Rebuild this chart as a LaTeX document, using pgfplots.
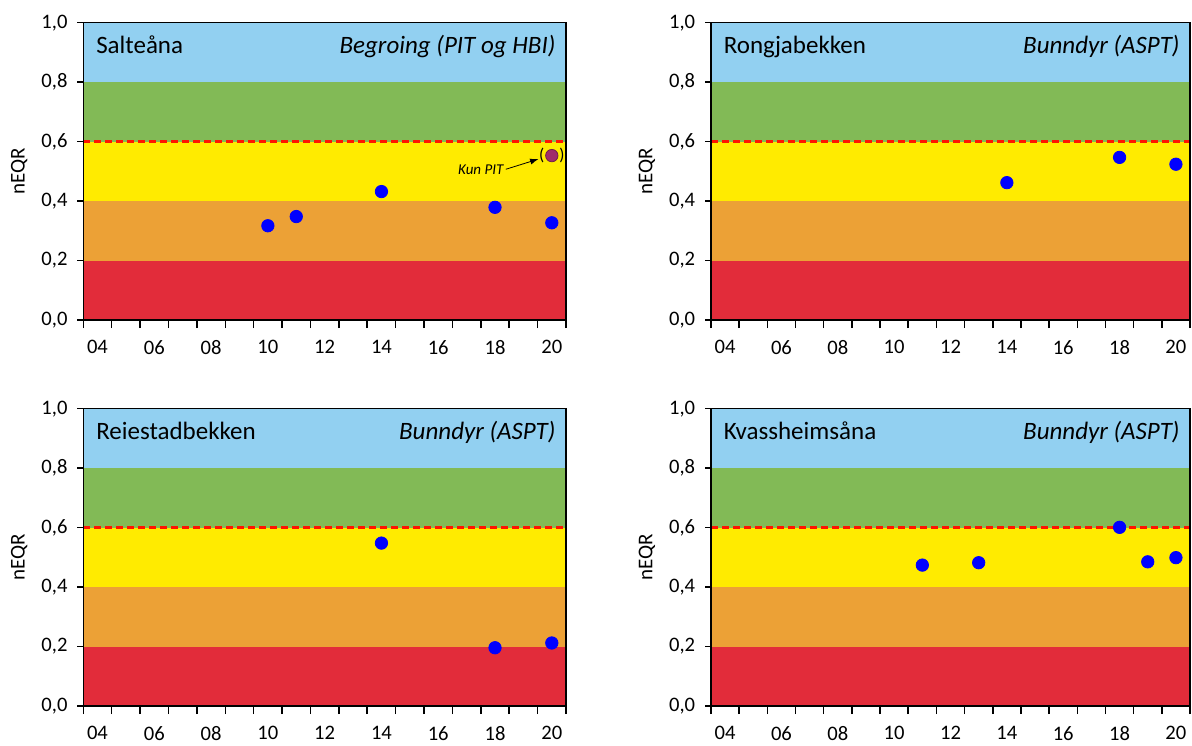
\documentclass[border=0pt]{standalone}
\usepackage{fontspec}
\setmainfont{Carlito}
\usepackage{pgfplots}
\pgfplotsset{compat=1.18}
\definecolor{cblue}{RGB}{146,208,241}
\definecolor{cgreen}{RGB}{130,186,86}
\definecolor{cyellow}{RGB}{255,235,0}
\definecolor{corange}{RGB}{236,161,54}
\definecolor{cred}{RGB}{226,44,58}
\definecolor{cdot}{RGB}{0,0,255}
\definecolor{cpurple}{RGB}{160,44,106}
\definecolor{cdash}{RGB}{255,20,0}
\pgfplotsset{
  panel/.style={
    scale only axis, height=148.65pt,
    xmin=3.5, xmax=20.5, ymin=0, ymax=1,
    xtick={4,6,8,10,12,14,16,18,20},
    xticklabels={04,06,08,10,12,14,16,18,20},
    minor xtick={3.5,4.5,5.5,6.5,7.5,8.5,9.5,10.5,11.5,12.5,13.5,14.5,15.5,16.5,17.5,18.5,19.5,20.5},
    major x tick style={draw=none},
    ytick={0,0.2,0.4,0.6,0.8,1},
    /pgf/number format/fixed,
    /pgf/number format/fixed zerofill,
    /pgf/number format/precision=1,
    /pgf/number format/use comma,
    /pgf/number format/assume math mode=true,
    tick align=outside, xtick pos=bottom, ytick pos=left,
    major tick length=3pt, minor tick length=4pt,
    axis line style={line width=0.75pt},
    every tick/.style={black, line width=0.75pt},
    ticklabel style={font=\fontsize{10.3}{12}\selectfont},
    yticklabel style={xshift=-1.4pt},
    xticklabel style={yshift=-3.6pt},
    axis on top,
    ylabel={nEQR},
    every axis y label/.style={at={(rel axis cs:0,0.5)}, anchor=center, xshift=-32pt, rotate=90, font=\fontsize{10.5}{12}\selectfont},
    clip=false,
  },
}
\newcommand{\bands}{%
  \fill[cred] (axis cs:3.5,0) rectangle (axis cs:20.5,0.2);
  \fill[corange] (axis cs:3.5,0.2) rectangle (axis cs:20.5,0.4);
  \fill[cyellow] (axis cs:3.5,0.4) rectangle (axis cs:20.5,0.6);
  \fill[cgreen] (axis cs:3.5,0.6) rectangle (axis cs:20.5,0.8);
  \fill[cblue] (axis cs:3.5,0.8) rectangle (axis cs:20.5,1);
  \addplot[cdash, line width=1.3pt, dash pattern=on 3.5pt off 2pt] coordinates {(3.5,0.6) (20.5,0.6)};
}
\newcommand{\titles}[2]{%
  \node[anchor=base west, inner sep=0, font=\fontsize{12.5}{14}\selectfont] at (rel axis cs:0.026,0.898) {#1};
  \node[anchor=base east, inner sep=0, font=\fontsize{12.5}{14}\selectfont\itshape] at (rel axis cs:0.979,0.898) {#2};
}
\tikzset{dots/.style={only marks, mark=*, mark size=3.1pt, color=cdot}}
\begin{document}
\begin{tikzpicture}
\useasboundingbox (0,0) rectangle (596pt,-372.5pt);
% Top left
\begin{axis}[panel, width=241.35pt, at={(41.65pt,-160pt)}, anchor=south west]
\bands
\addplot[dots] coordinates {(10,0.317) (11,0.348) (14,0.432) (18,0.379) (20,0.327)};
\addplot[only marks, mark=*, mark size=3.1pt, color=cpurple, mark options={draw=cpurple!70!black}] coordinates {(20,0.553)};
\node[inner sep=0, font=\fontsize{8.5}{9}\selectfont] at (axis cs:20,0.553) {(\hspace{7.6pt})};
\node[anchor=east, inner sep=0, font=\fontsize{7.5}{9}\selectfont\itshape] at (axis cs:18.31,0.505) {Kun PIT};
\draw[-latex, line width=0.4pt] (axis cs:18.38,0.507) -- (axis cs:19.52,0.541);
\titles{Salteåna}{Begroing (PIT og HBI)}
\end{axis}
% Top right
\begin{axis}[panel, width=239.5pt, at={(355.5pt,-160pt)}, anchor=south west]
\bands
\addplot[dots] coordinates {(14,0.462) (18,0.547) (20,0.524)};
\titles{Rongjabekken}{Bunndyr (ASPT)}
\end{axis}
% Bottom left
\begin{axis}[panel, width=241.35pt, at={(41.65pt,-353pt)}, anchor=south west]
\bands
\addplot[dots] coordinates {(14,0.548) (18,0.196) (20,0.212)};
\titles{Reiestadbekken}{Bunndyr (ASPT)}
\end{axis}
% Bottom right
\begin{axis}[panel, width=239.5pt, at={(355.5pt,-353pt)}, anchor=south west]
\bands
\addplot[dots] coordinates {(11,0.474) (13,0.482) (18,0.601) (19,0.485) (20,0.499)};
\titles{Kvassheimsåna}{Bunndyr (ASPT)}
\end{axis}
\end{tikzpicture}
\end{document}
